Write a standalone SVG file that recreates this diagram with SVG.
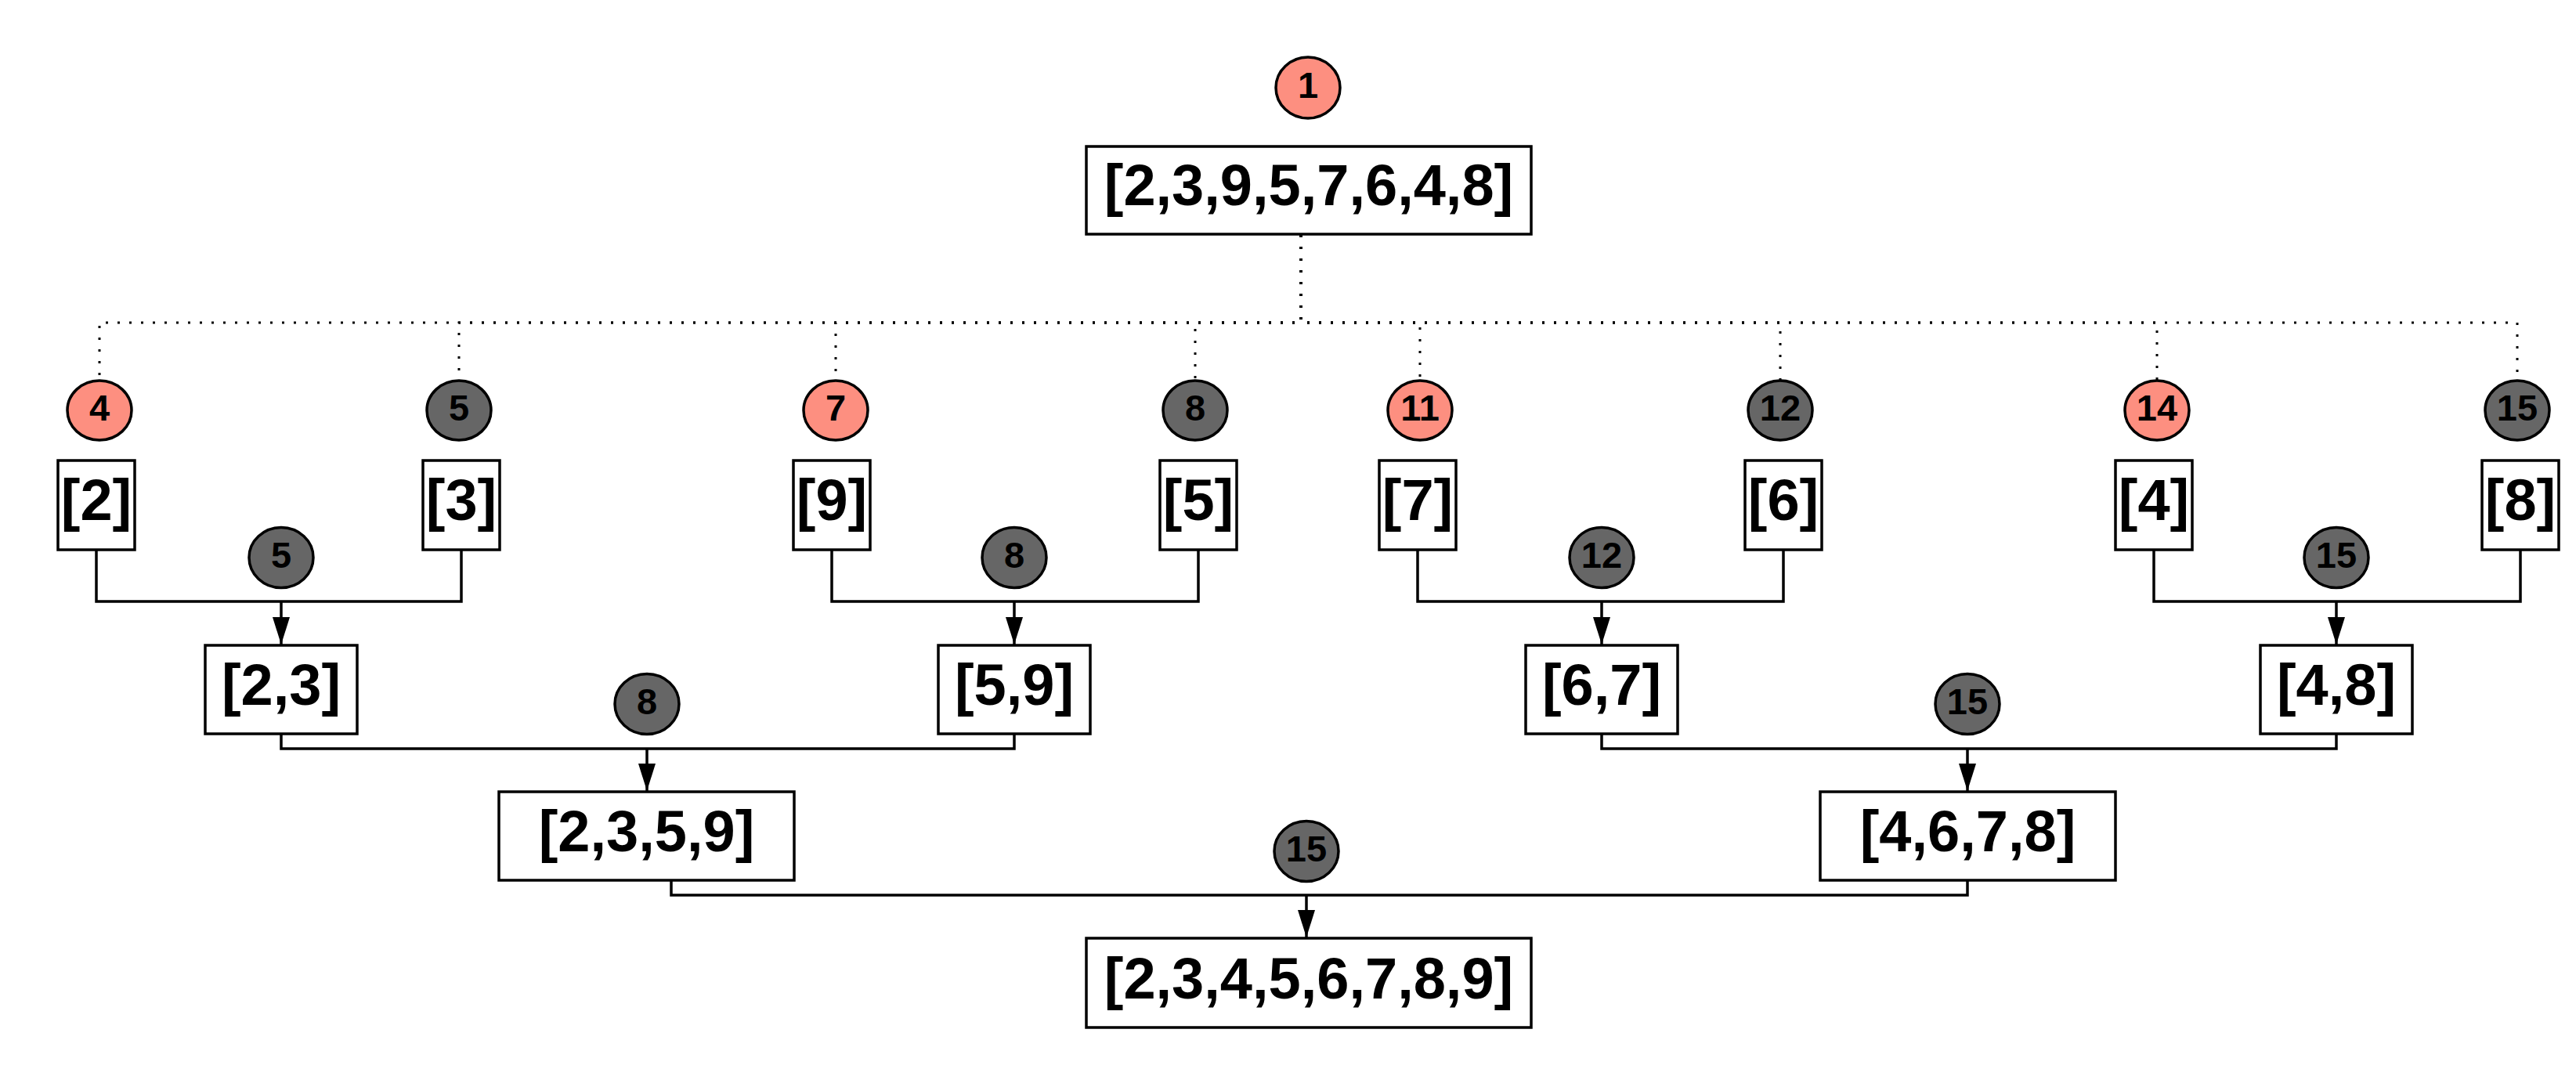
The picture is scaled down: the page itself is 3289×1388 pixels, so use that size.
<svg xmlns="http://www.w3.org/2000/svg" width="3289" height="1388" viewBox="0 0 3289 1388">
<style>
.box{fill:#fff;stroke:#000;stroke-width:3.5}
.bt{font-family:"Liberation Sans",Arial,sans-serif;font-weight:bold;font-size:74px;text-anchor:middle;fill:#000}
.ct{font-family:"Liberation Sans",Arial,sans-serif;font-weight:bold;font-size:47px;text-anchor:middle;fill:#000}
.red{fill:#fd8f80;stroke:#000;stroke-width:3.5}
.gray{fill:#666666;stroke:#000;stroke-width:3.5}
.dot{fill:none;stroke:#000;stroke-width:3;stroke-dasharray:3 12}
.edge{fill:none;stroke:#000;stroke-width:3.5}
</style>
<defs>
<marker id="ah" markerUnits="userSpaceOnUse" markerWidth="24" markerHeight="36" refX="12" refY="35" orient="0" viewBox="0 0 24 36">
<path d="M1,0 L23,0 L12,35 Z" fill="#000"/>
</marker>
</defs>
<rect width="3289" height="1388" fill="#fff"/>
<g id="connectors">
<path class="dot" d="M1661,300 V412 H127 V485"/>
<path class="dot" d="M1661,300 V412 H586 V485"/>
<path class="dot" d="M1661,300 V412 H1067 V485"/>
<path class="dot" d="M1661,300 V412 H1526 V485"/>
<path class="dot" d="M1661,300 V412 H1813 V485"/>
<path class="dot" d="M1661,300 V412 H2273 V485"/>
<path class="dot" d="M1661,300 V412 H2754 V485"/>
<path class="dot" d="M1661,300 V412 H3214 V485"/>
<path class="edge" d="M123,702 V768 H589 V702"/>
<path class="edge" d="M359,768 V823" marker-end="url(#ah)"/>
<path class="edge" d="M1062,702 V768 H1530 V702"/>
<path class="edge" d="M1295,768 V823" marker-end="url(#ah)"/>
<path class="edge" d="M1810,702 V768 H2277 V702"/>
<path class="edge" d="M2045,768 V823" marker-end="url(#ah)"/>
<path class="edge" d="M2750,702 V768 H3218 V702"/>
<path class="edge" d="M2983,768 V823" marker-end="url(#ah)"/>
<path class="edge" d="M359,937 V956 H1295 V937"/>
<path class="edge" d="M826,956 V1010" marker-end="url(#ah)"/>
<path class="edge" d="M2045,937 V956 H2983 V937"/>
<path class="edge" d="M2512,956 V1010" marker-end="url(#ah)"/>
<path class="edge" d="M857,1124 V1143 H2512 V1124"/>
<path class="edge" d="M1668,1143 V1197" marker-end="url(#ah)"/>
</g>
<g id="n-top"><rect class="box" x="1387" y="187" width="568" height="112"/><text class="bt" x="1671" y="262">[2,3,9,5,7,6,4,8]</text></g>
<g id="c-1"><ellipse class="red" cx="1670" cy="112" rx="41" ry="39"/><text class="ct" x="1670" y="125">1</text></g>
<g id="c-4"><ellipse class="red" cx="127" cy="524" rx="41" ry="38"/><text class="ct" x="127" y="537">4</text></g>
<g id="c-5"><ellipse class="gray" cx="586" cy="524" rx="41" ry="38"/><text class="ct" x="586" y="537">5</text></g>
<g id="c-7"><ellipse class="red" cx="1067" cy="524" rx="41" ry="38"/><text class="ct" x="1067" y="537">7</text></g>
<g id="c-8"><ellipse class="gray" cx="1526" cy="524" rx="41" ry="38"/><text class="ct" x="1526" y="537">8</text></g>
<g id="c-11"><ellipse class="red" cx="1813" cy="524" rx="41" ry="38"/><text class="ct" x="1813" y="537">11</text></g>
<g id="c-12"><ellipse class="gray" cx="2273" cy="524" rx="41" ry="38"/><text class="ct" x="2273" y="537">12</text></g>
<g id="c-14"><ellipse class="red" cx="2754" cy="524" rx="41" ry="38"/><text class="ct" x="2754" y="537">14</text></g>
<g id="c-15"><ellipse class="gray" cx="3214" cy="524" rx="41" ry="38"/><text class="ct" x="3214" y="537">15</text></g>
<g id="n-2"><rect class="box" x="74" y="588" width="98" height="114"/><text class="bt" x="123" y="664">[2]</text></g>
<g id="n-3"><rect class="box" x="540" y="588" width="98" height="114"/><text class="bt" x="589" y="664">[3]</text></g>
<g id="n-9"><rect class="box" x="1013" y="588" width="98" height="114"/><text class="bt" x="1062" y="664">[9]</text></g>
<g id="n-5"><rect class="box" x="1481" y="588" width="98" height="114"/><text class="bt" x="1530" y="664">[5]</text></g>
<g id="n-7"><rect class="box" x="1761" y="588" width="98" height="114"/><text class="bt" x="1810" y="664">[7]</text></g>
<g id="n-6"><rect class="box" x="2228" y="588" width="98" height="114"/><text class="bt" x="2277" y="664">[6]</text></g>
<g id="n-4"><rect class="box" x="2701" y="588" width="98" height="114"/><text class="bt" x="2750" y="664">[4]</text></g>
<g id="n-8"><rect class="box" x="3169" y="588" width="98" height="114"/><text class="bt" x="3218" y="664">[8]</text></g>
<g id="l1-5"><ellipse class="gray" cx="359" cy="712" rx="41" ry="38.5"/><text class="ct" x="359" y="725">5</text></g>
<g id="l1-8"><ellipse class="gray" cx="1295" cy="712" rx="41" ry="38.5"/><text class="ct" x="1295" y="725">8</text></g>
<g id="l1-12"><ellipse class="gray" cx="2045" cy="712" rx="41" ry="38.5"/><text class="ct" x="2045" y="725">12</text></g>
<g id="l1-15"><ellipse class="gray" cx="2983" cy="712" rx="41" ry="38.5"/><text class="ct" x="2983" y="725">15</text></g>
<g id="n-23"><rect class="box" x="262" y="824" width="194" height="113"/><text class="bt" x="359" y="900">[2,3]</text></g>
<g id="n-59"><rect class="box" x="1198" y="824" width="194" height="113"/><text class="bt" x="1295" y="900">[5,9]</text></g>
<g id="n-67"><rect class="box" x="1948" y="824" width="194" height="113"/><text class="bt" x="2045" y="900">[6,7]</text></g>
<g id="n-48"><rect class="box" x="2886" y="824" width="194" height="113"/><text class="bt" x="2983" y="900">[4,8]</text></g>
<g id="l2-8"><ellipse class="gray" cx="826" cy="899" rx="41" ry="38.5"/><text class="ct" x="826" y="912">8</text></g>
<g id="l2-15"><ellipse class="gray" cx="2512" cy="899" rx="41" ry="38.5"/><text class="ct" x="2512" y="912">15</text></g>
<g id="n-2359"><rect class="box" x="637" y="1011" width="377" height="113"/><text class="bt" x="825.5" y="1087">[2,3,5,9]</text></g>
<g id="n-4678"><rect class="box" x="2324" y="1011" width="377" height="113"/><text class="bt" x="2512.5" y="1087">[4,6,7,8]</text></g>
<g id="l3-15"><ellipse class="gray" cx="1668" cy="1087" rx="41" ry="38.5"/><text class="ct" x="1668" y="1100">15</text></g>
<g id="n-final"><rect class="box" x="1387" y="1198" width="568" height="114"/><text class="bt" x="1671" y="1275">[2,3,4,5,6,7,8,9]</text></g>
</svg>
